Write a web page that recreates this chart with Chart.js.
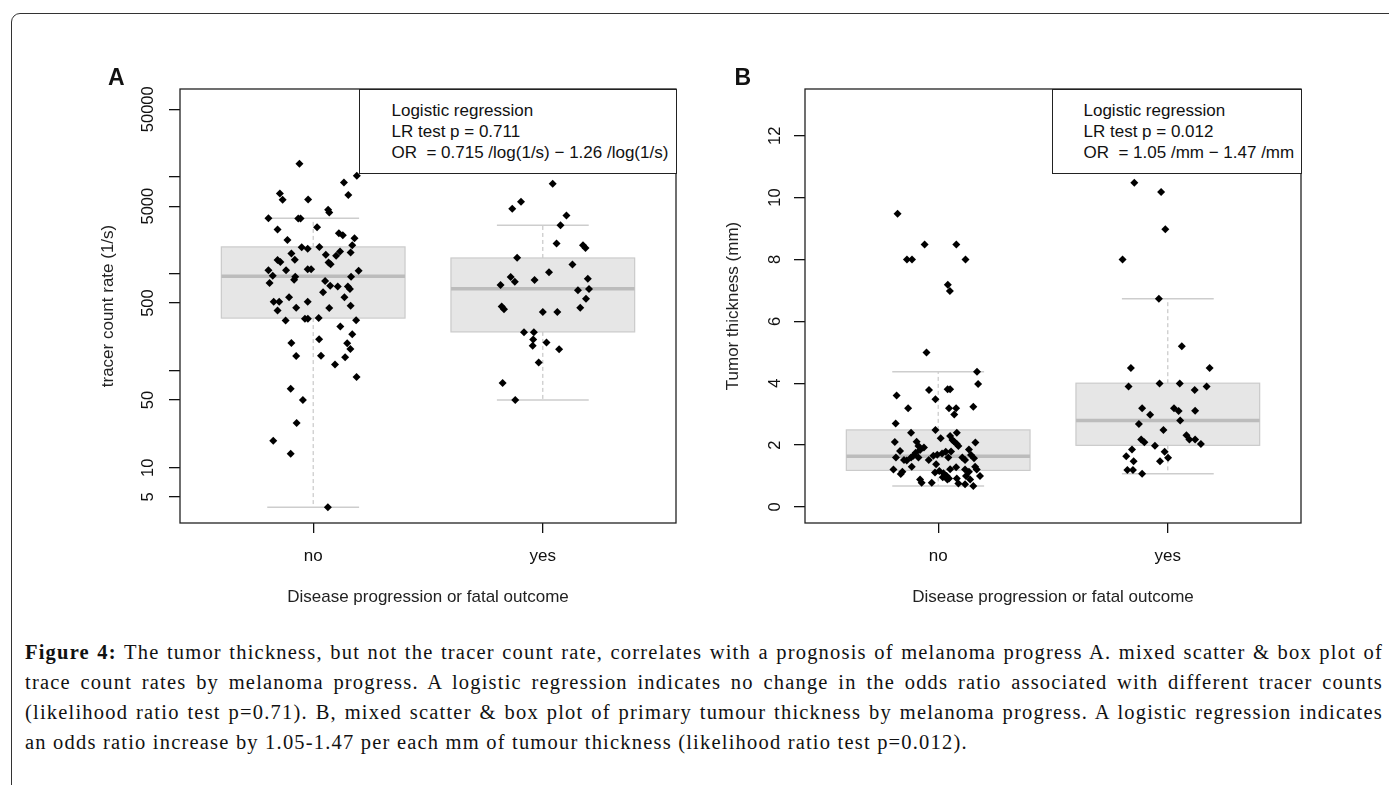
<!DOCTYPE html>
<html>
<head>
<meta charset="utf-8">
<script src="https://cdn.jsdelivr.net/npm/chart.js@4/dist/chart.umd.min.js"></script>
<style>
  body { margin: 0; width: 1389px; height: 785px; overflow: hidden; background: #fff; position: relative; font-family: "Liberation Sans", Arial, sans-serif; color: #111; }
  .frame { position: absolute; left: 11px; top: 13px; width: 1420px; height: 820px; border: 1.5px solid #333; border-radius: 9px; }
  canvas { position: absolute; top: 0; }
  #chartA { left: 0; }
  #chartB { left: 700px; }
  .tag { position: absolute; font-weight: bold; font-size: 23px; line-height: 1; }
  .legend { position: absolute; top: 88.5px; height: 85px; box-sizing: border-box; border: 1.3px solid #222; background: #fff; font-size: 17px; line-height: 21.2px; white-space: pre; padding-top: 10px; color: #111; }
  .cap { position: absolute; left: 25px; top: 637px; width: 1358px; font-family: "Liberation Serif", "Times New Roman", serif; font-size: 20.5px; letter-spacing: 1.2px; line-height: 30px; color: #111; }
  .cap div { white-space: nowrap; }
</style>
</head>
<body>
<div class="frame"></div>
<canvas id="chartA" width="700" height="613"></canvas>
<canvas id="chartB" width="625" height="613"></canvas>
<div class="tag" style="left:108px;top:66px">A</div>
<div class="tag" style="left:734.5px;top:66px">B</div>
<div class="legend" style="left:358.5px;width:318px;padding-left:32px">Logistic regression
LR test p = 0.711
OR  = 0.715 /log(1/s) − 1.26 /log(1/s)</div>
<div class="legend" style="left:1051.5px;width:250px;padding-left:31px">Logistic regression
LR test p = 0.012
OR  = 1.05 /mm − 1.47 /mm</div>
<div class="cap">
  <div class="j"><span><b>Figure 4:</b> The tumor thickness, but not the tracer count rate, correlates with a prognosis of melanoma progress A. mixed scatter &amp; box plot of</span></div>
  <div class="j"><span>trace count rates by melanoma progress. A logistic regression indicates no change in the odds ratio associated with different tracer counts</span></div>
  <div class="j"><span>(likelihood ratio test p=0.71). B, mixed scatter &amp; box plot of primary tumour thickness by melanoma progress. A logistic regression indicates</span></div>
  <div><span>an odds ratio increase by 1.05-1.47 per each mm of tumour thickness (likelihood ratio test p=0.012).</span></div>
</div>
<script>
const groups = ['no', 'yes'];

// panel A: tracer count rate (1/s), log axis
const aTicks = [5, 10, 50, 100, 500, 1000, 5000, 10000, 50000];
const aTickLabels = [5, 10, 50, 500, 5000, 50000];
const aNoVal = [13700, 10300, 8790, 6760, 5820, 5870, 6500, 4580, 4300, 3760, 3740, 3740, 2870, 3030, 2240, 2620, 2500, 2330,
  1880, 1820, 1900, 1980, 1620, 1580, 1700, 1660, 1390, 1330, 1400, 1315, 1256, 1540, 1090, 1090, 960, 1120, 1120, 1080,
  935, 870, 935, 845, 755, 740, 740, 698, 805, 645, 573, 573, 515, 515, 515, 447, 444, 468, 420,
  331, 344, 344, 350, 333, 287, 239, 194, 212, 192, 168, 142, 143, 138, 116, 86.5, 65.5, 50, 28.9, 19, 13.9, 3.9];
const aNoJit = [-0.06, 0.19, 0.134, -0.145, -0.133, -0.022, 0.153, 0.065, 0.07, -0.195, -0.065, -0.055, -0.155, 0.017, -0.112, 0.112, 0.129, 0.18,
  -0.05, -0.024, 0.027, 0.17, -0.095, 0.055, 0.117, 0.163, -0.155, -0.143, -0.08, 0.067, 0.076, 0.1, -0.118, -0.195, -0.176, -0.024, -0.009, 0.198,
  -0.078, -0.083, 0.165, 0.052, 0.074, 0.107, 0.151, 0.16, -0.19, 0.043, -0.105, 0.136, -0.172, -0.148, -0.024, -0.074, 0.07, 0.163, -0.155,
  -0.12, -0.036, -0.023, 0.024, 0.187, 0.118, 0.17, -0.095, 0.026, 0.148, 0.162, -0.074, 0.034, 0.139, 0.095, 0.189, -0.098, -0.045, -0.072, -0.174, -0.098, 0.064];
const aYesVal = [8520, 5540, 4690, 4000, 3180, 2060, 1980, 1850, 1470, 1250, 1040, 929, 832, 863, 893, 767, 698, 680, 554,
  462, 433, 404, 404, 447, 250, 250, 210, 196, 181, 167, 122, 75, 50];
const aYesJit = [0.043, -0.095, -0.133, 0.103, 0.077, 0.06, 0.175, 0.186, -0.112, 0.129, 0.027, -0.14, -0.122, -0.036, 0.196, -0.184, 0.201, 0.153, 0.188,
  -0.179, -0.169, 0.0, 0.063, 0.163, -0.082, -0.039, -0.042, 0.016, -0.044, 0.071, -0.018, -0.175, -0.12];
// box stats: [lower whisker, Q1, median, Q3, upper whisker]
const aStatsNo = [3.9, 350, 944, 1900, 3760];
const aStatsYes = [50, 252, 704, 1460, 3180];

// panel B: tumor thickness (mm)
const bTicks = [0, 2, 4, 6, 8, 10, 12];
const bNoVal = [9.48, 8.0, 8.0, 8.48, 8.48, 8.0, 7.18, 6.98, 4.99,
  4.37, 3.97, 3.60, 3.78, 3.80, 3.80, 3.48, 3.19, 3.19, 3.19, 2.99, 3.24, 2.70, 2.40, 2.49, 2.22, 2.29, 2.16, 2.11, 2.03, 1.97, 2.40,
  2.10, 2.11, 1.97, 1.84, 1.92, 1.81, 1.75, 1.65, 1.60, 1.60, 1.60, 1.52, 1.50, 1.52, 1.65, 1.69, 1.73, 1.78, 1.79, 1.60, 1.60, 1.52,
  1.86, 1.68, 2.08, 1.57, 1.21, 1.14, 1.06, 1.30, 1.38, 1.11, 1.16, 1.09, 1.00, 0.96, 1.22, 0.92, 1.28, 1.21, 1.14, 1.00, 1.30, 1.21,
  1.00, 0.89, 0.78, 0.78, 0.92, 0.76, 0.73, 0.89, 0.68, 0.89];
const bNoJit = [-0.177, -0.136, -0.114, -0.059, 0.079, 0.119, 0.042, 0.051, -0.051,
  0.169, 0.174, -0.181, -0.04, 0.041, 0.052, -0.012, -0.131, 0.047, 0.078, 0.07, 0.153, -0.185, -0.118, -0.012, 0.011, 0.052, 0.062, 0.07, 0.081, 0.088, 0.081,
  -0.189, -0.094, -0.086, -0.079, -0.062, -0.166, -0.098, -0.108, -0.086, -0.118, -0.184, -0.149, -0.137, -0.041, -0.021, -0.004, 0.017, 0.033, 0.056, 0.044, 0.105, 0.117,
  0.134, 0.143, 0.162, 0.156, -0.195, -0.156, -0.163, -0.115, -0.009, -0.014, 0.005, 0.023, 0.037, 0.02, 0.052, 0.047, 0.078, 0.117, 0.134, 0.121, 0.161, 0.168,
  0.182, -0.079, -0.072, -0.028, 0.081, 0.088, 0.117, 0.139, 0.153, 0.04];
const bYesVal = [10.48, 10.18, 8.98, 8.0, 6.73, 5.19, 4.49, 4.49, 3.99, 3.99, 3.89, 3.89, 3.78, 3.19, 3.19, 3.1, 3.11, 2.98, 2.79,
  2.68, 2.49, 2.18, 2.09, 2.32, 2.18, 2.18, 2.03, 1.98, 1.86, 1.78, 1.64, 1.59, 1.48, 1.48, 1.19, 1.19, 1.07];
const bYesJit = [-0.146, -0.029, -0.011, -0.197, -0.039, 0.061, -0.161, 0.182, -0.036, 0.052, -0.171, 0.169, 0.117, -0.112, 0.027, 0.047, 0.119, -0.077, 0.054,
  -0.126, -0.019, -0.116, -0.102, 0.081, 0.094, 0.119, 0.144, -0.056, -0.156, -0.014, -0.181, 0.001, -0.149, -0.034, -0.176, -0.152, -0.112];
const bStatsNo = [0.68, 1.18, 1.64, 2.49, 4.37];
const bStatsYes = [1.07, 1.99, 2.79, 4.0, 6.73];

Chart.defaults.font.family = '"Liberation Sans", Arial, sans-serif';
Chart.defaults.color = '#111';

// boxes and whiskers drawn through the chart scales, plus the plot frame
const boxPlugin = {
  id: 'boxes',
  beforeDatasetsDraw(chart, args, opts) {
    const { ctx, scales: { x, y } } = chart;
    opts.stats.forEach((s, i) => {
      const c = i + 1;
      const xl = x.getPixelForValue(c - 0.4), xr = x.getPixelForValue(c + 0.4);
      const cl = x.getPixelForValue(c - 0.2), cr = x.getPixelForValue(c + 0.2);
      const xc = x.getPixelForValue(c);
      const [lo, q1, med, q3, hi] = s.map(v => y.getPixelForValue(v));
      ctx.save();
      ctx.strokeStyle = '#bdbdbd';
      ctx.lineWidth = 1;
      ctx.setLineDash([4, 3]);
      ctx.beginPath();
      ctx.moveTo(xc, q3); ctx.lineTo(xc, hi);
      ctx.moveTo(xc, q1); ctx.lineTo(xc, lo);
      ctx.stroke();
      ctx.setLineDash([]);
      ctx.strokeStyle = '#cdcdcd';
      ctx.lineWidth = 1.5;
      ctx.beginPath();
      ctx.moveTo(cl, hi); ctx.lineTo(cr, hi);
      ctx.moveTo(cl, lo); ctx.lineTo(cr, lo);
      ctx.stroke();
      ctx.fillStyle = '#e6e6e6';
      ctx.fillRect(xl, q3, xr - xl, q1 - q3);
      ctx.strokeStyle = '#cbcbcb';
      ctx.lineWidth = 1.2;
      ctx.strokeRect(xl, q3, xr - xl, q1 - q3);
      ctx.strokeStyle = '#bcbcbc';
      ctx.lineWidth = 3.5;
      ctx.beginPath();
      ctx.moveTo(xl, med); ctx.lineTo(xr, med);
      ctx.stroke();
      ctx.restore();
    });
  },
  afterDraw(chart) {
    const { ctx, chartArea: a } = chart;
    ctx.save();
    ctx.strokeStyle = '#222';
    ctx.lineWidth = 1.3;
    ctx.strokeRect(a.left, a.top, a.right - a.left, a.bottom - a.top);
    ctx.restore();
  }
};

function points(vals, jit, cat) {
  return vals.map((v, i) => ({ x: cat + jit[i], y: v }));
}

function xAxis() {
  return {
    type: 'linear', min: 0.42, max: 2.58,
    afterBuildTicks: s => { s.ticks = groups.map((g, i) => ({ value: i + 1 })); },
    afterFit: s => { s.height = 90; },
    ticks: { callback: v => groups[v - 1], color: '#111', font: { size: 17 }, padding: 12.8, autoSkip: false, maxRotation: 0 },
    grid: { drawOnChartArea: false, tickLength: 10, color: '#111', lineWidth: 1.3 },
    border: { display: false },
    title: { display: true, text: 'Disease progression or fatal outcome', color: '#222', font: { size: 17 }, padding: { top: 0, bottom: 5.8 } }
  };
}

function makePanel(id, yAxis, leftPad, sets, stats) {
  new Chart(document.getElementById(id), {
    type: 'scatter',
    data: {
      datasets: sets.map(d => ({
        data: d,
        pointStyle: 'rectRot',
        pointRadius: 4,
        pointBackgroundColor: '#000',
        pointBorderWidth: 0
      }))
    },
    options: {
      responsive: false,
      animation: false,
      events: [],
      layout: { padding: { left: leftPad, top: 89, right: 24, bottom: 0 } },
      plugins: { legend: { display: false }, tooltip: { enabled: false }, boxes: { stats } },
      scales: { x: xAxis(), y: yAxis }
    },
    plugins: [boxPlugin]
  });
}

makePanel('chartA', {
  type: 'logarithmic', min: 2.69, max: 80900,
  afterBuildTicks: s => { s.ticks = aTicks.map(v => ({ value: v })); },
  afterFit: s => { s.width = 92; },
  ticks: { callback: v => aTickLabels.includes(v) ? String(v) : '', minRotation: 90, maxRotation: 90, crossAlign: 'center', padding: -1.9, color: '#111', font: { size: 16.5 }, autoSkip: false },
  grid: { drawOnChartArea: false, tickLength: 11, color: '#111', lineWidth: 1.3 },
  border: { display: false },
  title: { display: true, text: 'tracer count rate (1/s)', color: '#222', font: { size: 17 }, padding: { top: 9.8, bottom: 0 } }
}, 88, [points(aNoVal, aNoJit, 1), points(aYesVal, aYesJit, 2)], [aStatsNo, aStatsYes]);

makePanel('chartB', {
  type: 'linear', min: -0.52, max: 13.51,
  afterBuildTicks: s => { s.ticks = bTicks.map(v => ({ value: v })); },
  afterFit: s => { s.width = 93; },
  ticks: { callback: v => String(v), minRotation: 90, maxRotation: 90, crossAlign: 'center', padding: 9.8, color: '#111', font: { size: 16.5 }, autoSkip: false },
  grid: { drawOnChartArea: false, tickLength: 11, color: '#111', lineWidth: 1.3 },
  border: { display: false },
  title: { display: true, text: 'Tumor thickness (mm)', color: '#222', font: { size: 17 }, padding: { top: 10.8, bottom: 0 } }
}, 12, [points(bNoVal, bNoJit, 1), points(bYesVal, bYesJit, 2)], [bStatsNo, bStatsYes]);

// justify the first three caption lines to the full text width
document.querySelectorAll('.cap .j').forEach(line => {
  const span = line.firstElementChild;
  const spaces = (span.textContent.match(/ /g) || []).length;
  const gap = 1358 - span.getBoundingClientRect().width;
  span.style.wordSpacing = (gap / spaces) + 'px';
});
</script>
</body>
</html>
